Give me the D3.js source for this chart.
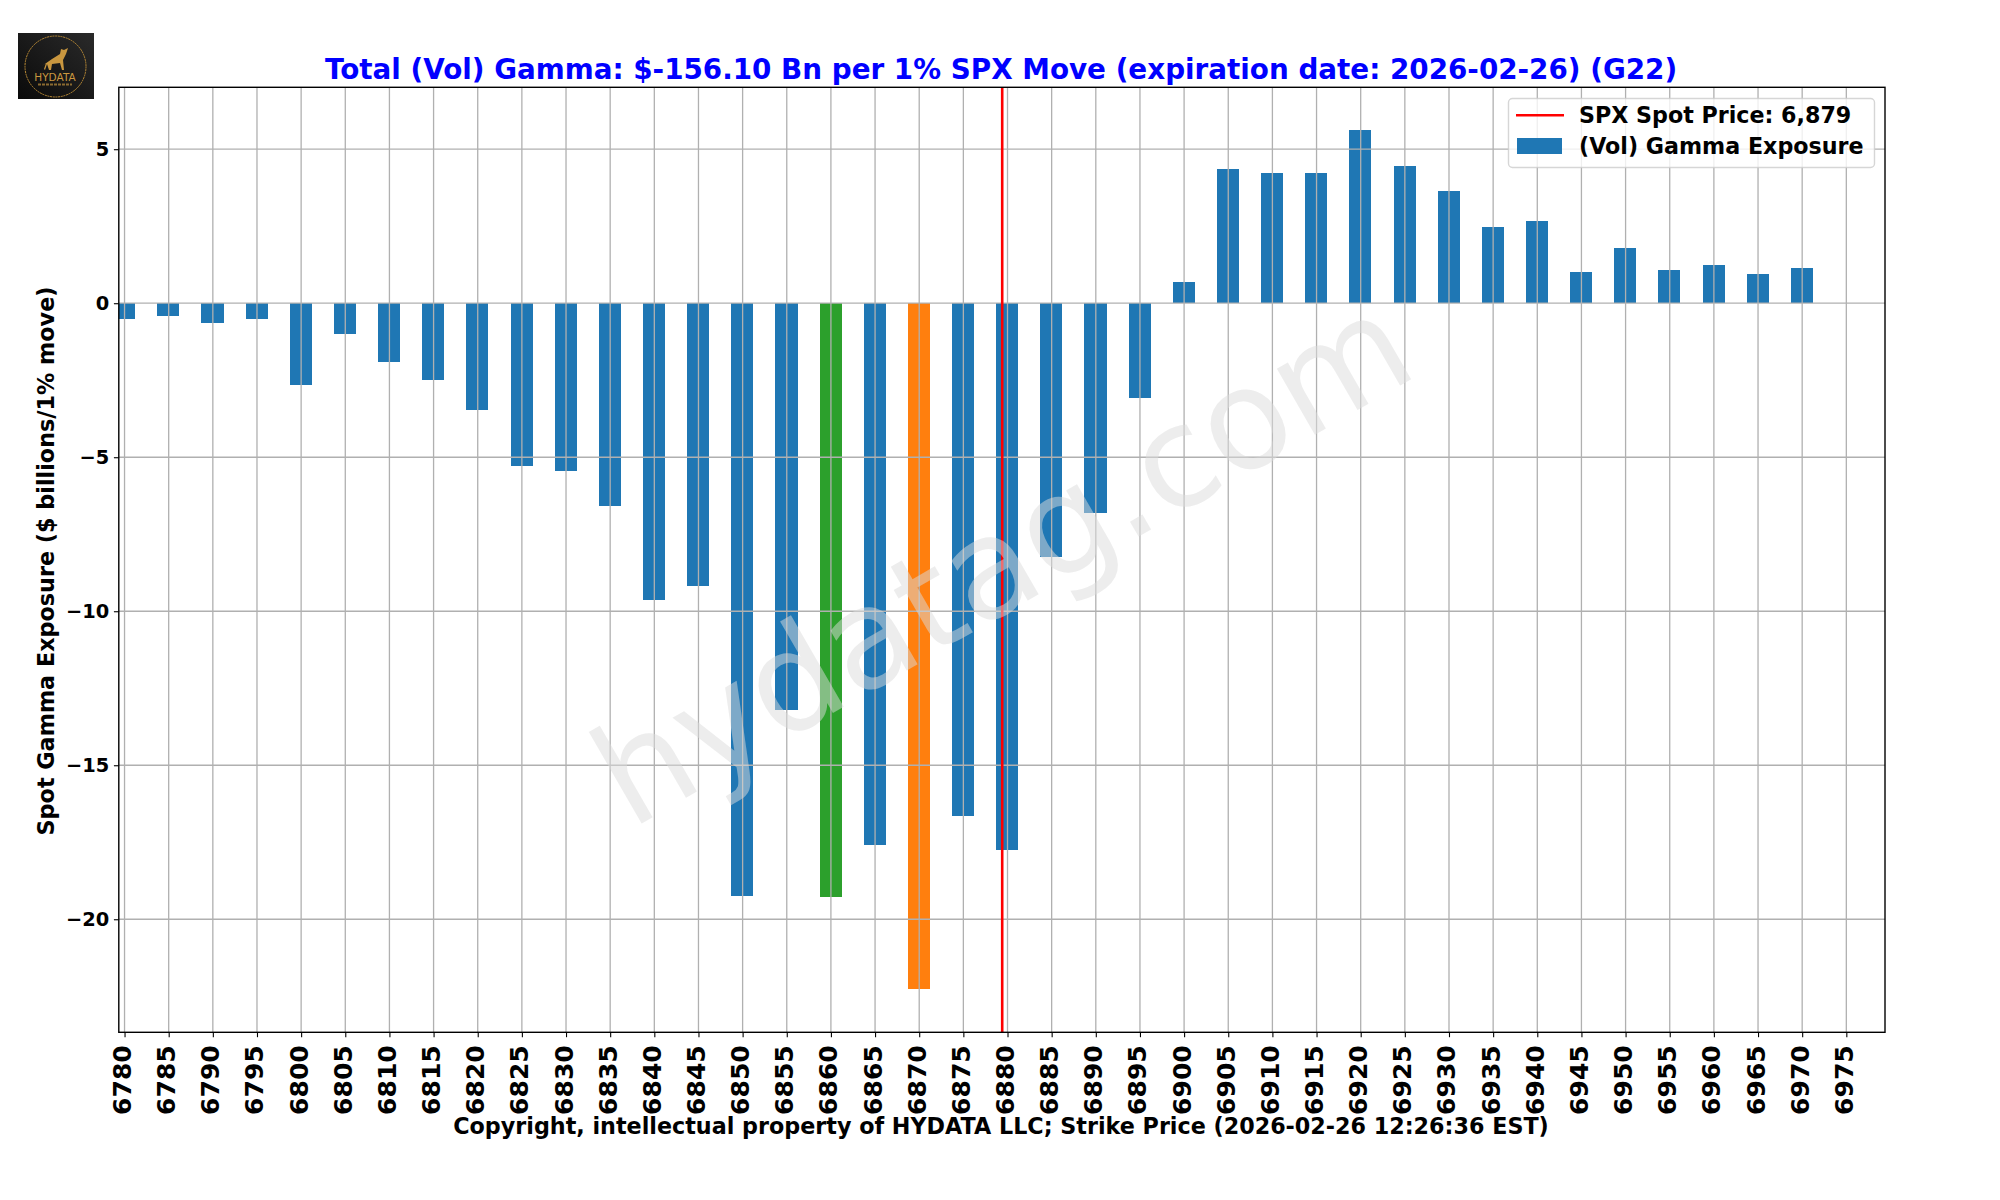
<!DOCTYPE html>
<html>
<head>
<meta charset="utf-8">
<script src="https://cdn.jsdelivr.net/npm/d3@7"></script>
<style>
  html, body { margin: 0; padding: 0; background: #fff; }
  svg { display: block; }
  text { font-family: "DejaVu Sans", sans-serif; font-weight: bold; fill: #000; }
</style>
</head>
<body>
<script>
const width = 2000;
const height = 1200;
const margins = { top: 87.3, right: 115, bottom: 167.7, left: 118.8 };

const titleText = "Total (Vol) Gamma: $-156.10 Bn per 1% SPX Move (expiration date: 2026-02-26) (G22)";
const xLabelText = "Copyright, intellectual property of HYDATA LLC; Strike Price (2026-02-26 12:26:36 EST)";
const yLabelText = "Spot Gamma Exposure ($ billions/1% move)";
const spotLabel = "SPX Spot Price: 6,879";
const barLabel = "(Vol) Gamma Exposure";

const strikes = [
  6780, 6785, 6790, 6795, 6800, 6805, 6810, 6815, 6820, 6825,
  6830, 6835, 6840, 6845, 6850, 6855, 6860, 6865, 6870, 6875,
  6880, 6885, 6890, 6895, 6900, 6905, 6910, 6915, 6920, 6925,
  6930, 6935, 6940, 6945, 6950, 6955, 6960, 6965, 6970, 6975,
];
const gamma = [
  -0.5, -0.4, -0.63, -0.5, -2.64, -0.99, -1.91, -2.48, -3.47, -5.27,
  -5.45, -6.57, -9.63, -9.18, -19.24, -13.2, -19.27, -17.6, -22.26, -16.65,
  -17.75, -8.23, -6.8, -3.08, 0.68, 4.35, 4.22, 4.22, 5.62, 4.45,
  3.64, 2.47, 2.66, 1.01, 1.79, 1.07, 1.23, 0.94, 1.14, 0,
];
const yTicks = [-20, -15, -10, -5, 0, 5];
const spotPrice = 6879.4;
const strikeColours = { 6860: "#2ca02c", 6870: "#ff7f0e" };
const barColour = "#1f77b4";

const svg = d3.select("body").append("svg").attr("width", width).attr("height", height);

const innerRight = width - margins.right;
const innerBottom = height - margins.bottom;

const x = d3.scaleLinear().domain([6779.35, 6979.38]).range([margins.left, innerRight]);
const y = d3.scaleLinear().domain([-23.67, 7.01]).range([innerBottom, margins.top]);

svg.append("clipPath").attr("id", "plot-clip").append("rect")
  .attr("x", margins.left).attr("y", margins.top)
  .attr("width", innerRight - margins.left).attr("height", innerBottom - margins.top);

// bars
svg.append("g").attr("clip-path", "url(#plot-clip)")
  .selectAll("rect")
  .data(strikes.map((s, i) => ({ strike: s, value: gamma[i] })))
  .join("rect")
  .attr("x", (d) => x(d.strike - 1.25) - 0.3)
  .attr("width", x(6781.25) - x(6778.75))
  .attr("y", (d) => y(Math.max(d.value, 0)))
  .attr("height", (d) => Math.abs(y(d.value) - y(0)))
  .attr("fill", (d) => strikeColours[d.strike] || barColour)
  .attr("shape-rendering", "crispEdges");

// grid lines sit above the bars here
const grid = svg.append("g").attr("stroke", "#b0b0b0").attr("stroke-width", 1.3);
grid.selectAll(".vgrid").data(strikes).join("line").attr("class", "vgrid")
  .attr("x1", (d) => x(d)).attr("x2", (d) => x(d))
  .attr("y1", margins.top).attr("y2", innerBottom);
grid.selectAll(".hgrid").data(yTicks).join("line").attr("class", "hgrid")
  .attr("x1", margins.left).attr("x2", innerRight)
  .attr("y1", (d) => y(d)).attr("y2", (d) => y(d));

// spot line
svg.append("line")
  .attr("x1", x(spotPrice)).attr("x2", x(spotPrice))
  .attr("y1", margins.top).attr("y2", innerBottom)
  .attr("stroke", "#ff0000").attr("stroke-width", 2.6);

// axes
const xAxis = svg.append("g")
  .attr("transform", `translate(0,${innerBottom})`)
  .call(d3.axisBottom(x).tickValues(strikes).tickFormat(d3.format("d")).tickSize(4.9).tickSizeOuter(0));
xAxis.select(".domain").remove();
xAxis.selectAll("line").attr("stroke", "#000").attr("stroke-width", 1.1);
xAxis.selectAll("text")
  .attr("font-size", 25).attr("y", 0).attr("dy", 0)
  .attr("text-anchor", "end")
  .attr("transform", "translate(6,13) rotate(-90)");

const yAxis = svg.append("g")
  .attr("transform", `translate(${margins.left},0)`)
  .call(d3.axisLeft(y).tickValues(yTicks).tickFormat((d) => String(d).replace("-", "\u2212")).tickSize(4.9).tickSizeOuter(0));
yAxis.select(".domain").remove();
yAxis.selectAll("line").attr("stroke", "#000").attr("stroke-width", 1.1);
yAxis.selectAll("text").attr("font-size", 19.4).attr("x", -9.5);

svg.append("rect")
  .attr("x", margins.left).attr("y", margins.top)
  .attr("width", innerRight - margins.left).attr("height", innerBottom - margins.top)
  .attr("fill", "none").attr("stroke", "#000").attr("stroke-width", 1.4);

// titles
svg.append("text").text(titleText)
  .attr("x", 1001).attr("y", 79)
  .attr("text-anchor", "middle").attr("font-size", 27.8)
  .style("fill", "#0000ff");
svg.append("text").text(xLabelText)
  .attr("x", 1001).attr("y", 1134)
  .attr("text-anchor", "middle").attr("font-size", 22.25);
svg.append("text").text(yLabelText)
  .attr("transform", "translate(54,561) rotate(-90)")
  .attr("text-anchor", "middle").attr("font-size", 22.3);

// legend
const legend = svg.append("g");
legend.append("rect")
  .attr("x", 1508.5).attr("y", 98.5).attr("width", 366).attr("height", 69).attr("rx", 4)
  .attr("fill", "#fff").attr("fill-opacity", 0.8)
  .attr("stroke", "#cccccc").attr("stroke-opacity", 0.8).attr("stroke-width", 1.4);
legend.append("line")
  .attr("x1", 1516).attr("x2", 1564).attr("y1", 115.3).attr("y2", 115.3)
  .attr("stroke", "#ff0000").attr("stroke-width", 2.6);
legend.append("rect")
  .attr("x", 1517).attr("y", 138).attr("width", 45).attr("height", 16)
  .attr("fill", barColour);
legend.append("text").text(spotLabel).attr("x", 1579).attr("y", 123).attr("font-size", 22.2);
legend.append("text").text(barLabel).attr("x", 1579).attr("y", 154).attr("font-size", 22.2);

// watermark
svg.append("text").text("hydatag.com")
  .attr("transform", "translate(1002,560) rotate(-30)")
  .attr("text-anchor", "middle").attr("dominant-baseline", "central")
  .attr("font-size", 139)
  .style("font-weight", "normal")
  .style("fill", "#dcdcdc").style("fill-opacity", 0.5);

// logo
const defs = svg.append("defs");
const logoFill = defs.append("linearGradient").attr("id", "logo-bg")
  .attr("x1", 1).attr("y1", 0).attr("x2", 0).attr("y2", 1);
logoFill.append("stop").attr("offset", 0).attr("stop-color", "#2a2a2a");
logoFill.append("stop").attr("offset", 1).attr("stop-color", "#0a0a0a");

const logo = svg.append("g");
logo.append("rect").attr("x", 18).attr("y", 33).attr("width", 76).attr("height", 66).attr("fill", "url(#logo-bg)");
logo.append("ellipse").attr("cx", 55.5).attr("cy", 66.5).attr("rx", 30.5).attr("ry", 30.5)
  .attr("fill", "none").attr("stroke", "#b98a35").attr("stroke-width", 1).attr("stroke-dasharray", "2 0.7");
logo.append("path")
  .attr("d", "M42,66 L52,59 L60,54 L61,49 L64,50 L68,48 L66,54 L63,60 L64,70 L62,70 L60,63 L52,64 L51,70 L49,70 L47,64 L45,70 L44,69 L46,63 Z")
  .attr("fill", "#c9973f");
logo.append("text").text("HYDATA")
  .attr("x", 55).attr("y", 81).attr("text-anchor", "middle").attr("font-size", 10.5)
  .style("font-weight", "normal").style("fill", "#c9973f");
logo.append("line")
  .attr("x1", 38).attr("x2", 72).attr("y1", 84.5).attr("y2", 84.5)
  .attr("stroke", "#8a6a30").attr("stroke-width", 2).attr("stroke-dasharray", "3 1");
</script>
</body>
</html>
